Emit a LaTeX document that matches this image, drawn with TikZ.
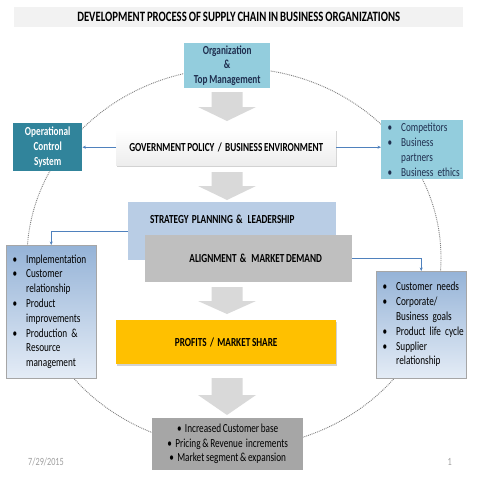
\documentclass[tikz,border=0pt]{standalone}
\usepackage{fontspec}
\setmainfont{Carlito}[FakeStretch=0.75, WordSpace=0.8]
\usetikzlibrary{shadows,arrows.meta}
\definecolor{titlebg}{HTML}{F2F2F2}
\definecolor{orgblue}{HTML}{93CDDD}
\definecolor{tealbox}{HTML}{31849B}
\definecolor{stratblue}{HTML}{B9CDE5}
\definecolor{aligngray}{HTML}{BFBFBF}
\definecolor{profitgold}{HTML}{FFC000}
\definecolor{bottomgray}{HTML}{A6A6A6}
\definecolor{arrowgray}{HTML}{D9D9D9}
\definecolor{linkblue}{HTML}{4F81BD}
\definecolor{listtop}{HTML}{95B3D7}
\definecolor{listbot}{HTML}{E4ECF6}
\definecolor{navytext}{HTML}{1F2F4F}
\definecolor{ringgray}{HTML}{7F7F7F}
\newcommand\bi[1]{\mbox{\makebox[13.5pt][l]{\textbullet}#1}}
\newcommand\hi[1]{\mbox{\hspace*{13.5pt}#1}}
\begin{document}
\begin{tikzpicture}[x=1pt,y=-1pt,
  box/.style={rectangle, anchor=north west, inner sep=0pt, align=center,
    font=\bfseries\fontsize{12.3}{14.6}\selectfont},
  listbox/.style={rectangle, anchor=north west, inner xsep=6.5pt, inner ysep=0pt,
    align=left, font=\fontsize{12.3}{14.8}\selectfont},
  link/.style={draw=linkblue, line width=0.8pt, -{Stealth[length=3.5pt,width=3pt]}},
  bigarrow/.style={fill=arrowgray},
  shad/.style={drop shadow={opacity=0.35, shadow xshift=0.8pt, shadow yshift=-2pt}}
]
\useasboundingbox (0,0) rectangle (480,480);
\fill[white] (0,0) rectangle (480,480);

% dotted ring
\draw[ringgray, line width=0.9pt, densely dotted] (234,258) ellipse [x radius=207, y radius=190];

% title
\node[box, fill=titlebg, minimum width=449pt, minimum height=20pt,
  font=\bfseries\fontsize{14.3}{16}\selectfont] (title) at (14,7)
  {DEVELOPMENT PROCESS OF SUPPLY CHAIN IN BUSINESS ORGANIZATIONS};

% organization
\node[box, fill=orgblue, minimum width=86pt, minimum height=45pt, text=navytext] (org) at (184,43)
  {Organization\\\&\\Top Management};

% government
\node[box, shad, top color=white, bottom color=gray!14, minimum width=220pt, minimum height=36pt] (gov) at (116,129)
  {GOVERNMENT POLICY\ \ /\ \ BUSINESS ENVIRONMENT};

% operational control system
\node[box, fill=tealbox, text=white, minimum width=69pt, minimum height=48pt] (ocs) at (13,123)
  {Operational\\Control\\System};

% competitors
\node[listbox, fill=orgblue, text width=69pt, minimum height=59pt, text=navytext] (comp) at (381,120)
  {\bi{Competitors}\\\bi{Business}\\\hi{partners}\\\bi{Business ethics}};

% strategy and alignment
\node[box, fill=stratblue, minimum width=208pt, minimum height=58pt] (strat) at (128,202) {};
\node[font=\bfseries\fontsize{12.3}{14}\selectfont, anchor=west, inner sep=0pt] (strattext) at (150,219)
  {STRATEGY\ \ PLANNING\ \ \&\ \ \ LEADERSHIP};
\node[box, fill=aligngray, minimum width=207pt, minimum height=47pt] (align) at (145,235)
  {\hspace*{14pt}ALIGNMENT\ \ \&\ \ \ MARKET DEMAND};

% left list box
\node[listbox, draw=gray!70, top color=listtop, bottom color=listbot, text width=77pt, minimum height=133pt] (left) at (6,245)
  {\bi{Implementation}\\\bi{Customer}\\\hi{relationship}\\\bi{Product}\\\hi{improvements}\\\bi{Production \&}\\\hi{Resource}\\\hi{management}};

% right list box
\node[listbox, draw=gray!70, top color=listtop, bottom color=listbot, text width=77pt, minimum height=107pt] (right) at (376,271)
  {\bi{Customer needs}\\\bi{Corporate/}\\\hi{Business goals}\\\bi{Product life cycle}\\\bi{Supplier}\\\hi{relationship}};

% profits
\node[box, shad, fill=profitgold, minimum width=220pt, minimum height=44pt] (profit) at (116,320)
  {PROFITS\ \ /\ \ MARKET SHARE};

% bottom box
\node[box, fill=bottomgray, minimum width=151pt, minimum height=52pt,
  font=\fontsize{12.3}{14.5}\selectfont] (bottom) at (152,418)
  {\textbullet\ \ Increased Customer base\\\textbullet\ \ Pricing \& Revenue\ \ increments\\\textbullet\ \ Market segment \& expansion};

% big down arrows
\fill[bigarrow] (211.5,92) -- (242.5,92) -- (242.5,107) -- (256,107) -- (227,121) -- (198,107) -- (211.5,107) -- cycle;
\fill[bigarrow] (211.5,172) -- (242.5,172) -- (242.5,186) -- (256,186) -- (227,200) -- (198,186) -- (211.5,186) -- cycle;
\fill[bigarrow] (211.5,287) -- (242.5,287) -- (242.5,301) -- (256,301) -- (227,314) -- (198,301) -- (211.5,301) -- cycle;
\fill[bigarrow] (211.5,378) -- (242.5,378) -- (242.5,395) -- (256,395) -- (227,415) -- (198,395) -- (211.5,395) -- cycle;

% connectors
\draw[link] (gov.west) -- (ocs.east);
\draw[link] (gov.east) -- (comp.west |- gov.east);
\draw[link] (strat.west) -| (left.north);
\draw[link] (align.east) -| (right.north);

% footer
\node[anchor=west, inner sep=0pt, text=gray!75, font=\fontsize{11}{12}\selectfont] (date) at (28,462) {7/29/2015};
\node[anchor=east, inner sep=0pt, text=gray!75, font=\fontsize{11}{12}\selectfont] (page) at (452,462) {1};
\end{tikzpicture}
\end{document}
